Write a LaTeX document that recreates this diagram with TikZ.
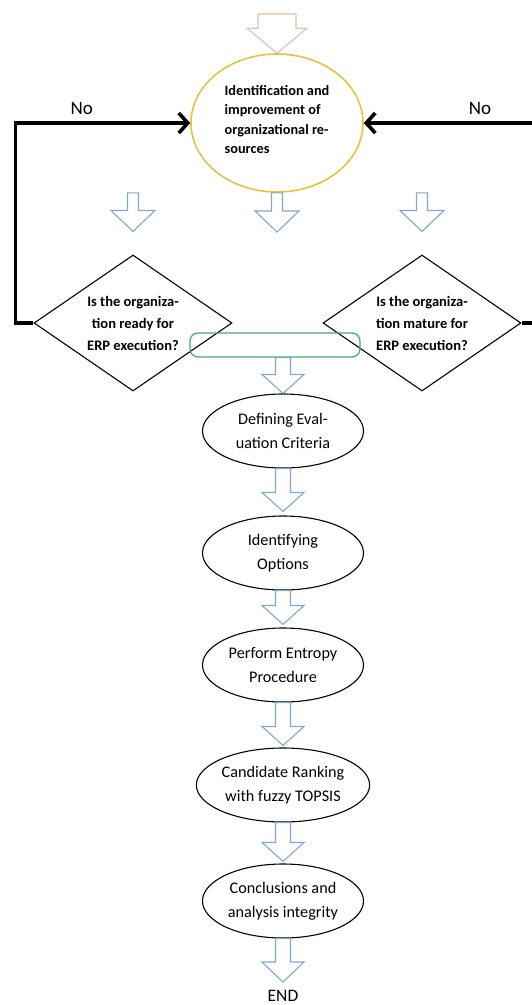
\documentclass[tikz,border=0pt]{standalone}
\usepackage{fontspec}
\setmainfont{Carlito}
\usetikzlibrary{shapes.geometric,calc,arrows.meta}
\definecolor{goldline}{RGB}{226,196,62}
\definecolor{arrowblue}{RGB}{128,168,205}
\definecolor{arroworange}{RGB}{228,192,168}
\definecolor{mergegreen}{RGB}{72,168,118}

% hollow block arrow: style, top point, tip point, shaft half width, head half width, head length
\newcommand{\hollowarrow}[6]{%
  \draw[#1] let \p1=#2, \p2=#3 in
    (\x2-#4pt,\y1) -- (\x2+#4pt,\y1) -- (\x2+#4pt,\y2+#6pt) -- (\x2+#5pt,\y2+#6pt)
    -- (\x2,\y2) -- (\x2-#5pt,\y2+#6pt) -- (\x2-#4pt,\y2+#6pt) -- cycle;}

\begin{document}
\begin{tikzpicture}[
	x=1pt, y=-1pt,
	yellownode/.style={draw=goldline, line width=1.6pt, ellipse, minimum width=172pt, minimum height=138pt, inner sep=0pt, align=left, font=\fontsize{14.3}{19.6}\selectfont\bfseries},
	decision/.style={draw, line width=1.1pt, diamond, aspect=1.43, minimum width=198pt, minimum height=136pt, inner sep=0pt, align=center, font=\fontsize{14.5}{22}\selectfont\bfseries},
	stage/.style={draw, line width=1.1pt, ellipse, minimum width=161pt, minimum height=74pt, inner sep=0pt, align=center, font=\fontsize{16.2}{24}\selectfont},
	bluearrow/.style={draw=arrowblue, fill=white, line width=1.1pt, line join=miter},
	orangearrow/.style={draw=arroworange, fill=white, line width=1.1pt},
	noline/.style={line width=3.6pt, -{Straight Barb[length=9pt, width=20pt]}},
	label/.style={font=\fontsize{19}{21}\selectfont}
	]
	\useasboundingbox (0,0) rectangle (531,1005);
	
	% Top node
	\coordinate (start) at (280,14);
	\node[yellownode] (resources) at (277,123) {Identification and\\improvement of\\organizational re-\\sources\vspace{7pt}};
	
	% Decisions
	\node[decision] (ready) at (133,323) {Is the organiza-\\tion ready for\\ERP execution?};
	\node[decision] (mature) at (422,323) {Is the organiza-\\tion mature for\\ERP execution?};
	\node[draw=mergegreen, line width=1.3pt, rounded corners=8pt, minimum width=170pt, minimum height=24pt] (merge) at (275,345) {};
	\coordinate (midtip) at (277,232);
	\coordinate (rightturn) at (540,323);
	
	% Stages
	\node[stage] (criteria) at (283,431) {Defining Eval-\\uation Criteria};
	\node[stage] (options) at (283,553) {Identifying\\Options};
	\node[stage] (entropy) at (283,665) {Perform Entropy\\Procedure};
	\node[stage] (ranking) at (283,785) {Candidate Ranking\\with fuzzy TOPSIS};
	\node[stage] (conclusions) at (283,901) {Conclusions and\\analysis integrity};
	\node[label, anchor=north, inner sep=0pt, font=\fontsize{17.5}{19}\selectfont] (end) at (283,990) {END};
	
	% No loops
	\draw[noline] (ready.west) -- ++(-18,0) |- (resources.west) node[pos=0.69, above=3pt, label] (noleft) {No};
	\draw[noline] (mature.east) -- (rightturn) |- (resources.east) node[pos=0.67, above=3pt, label] (noright) {No};
	
	% Block arrows
	\hollowarrow{orangearrow}{(start)}{(resources.north)}{19}{30}{25}
	\hollowarrow{bluearrow}{(resources.south)}{($(ready.north)+(0,-23)$)}{5.5}{22}{21}
	\hollowarrow{bluearrow}{(resources.south)}{(midtip)}{5.5}{22}{21}
	\hollowarrow{bluearrow}{(resources.south)}{($(mature.north)+(0,-23)$)}{5.5}{22}{21}
	\hollowarrow{bluearrow}{(merge.south)}{(criteria.north)}{7.5}{21}{19}
	\hollowarrow{bluearrow}{(criteria.south)}{($(options.north)+(0,-4)$)}{7.5}{21}{19}
	\hollowarrow{bluearrow}{(options.south)}{($(entropy.north)+(0,-3)$)}{7.5}{21}{19}
	\hollowarrow{bluearrow}{(entropy.south)}{($(ranking.north)+(0,-2)$)}{7.5}{21}{19}
	\hollowarrow{bluearrow}{(ranking.south)}{($(conclusions.north)+(0,-2)$)}{7.5}{21}{19}
	\hollowarrow{bluearrow}{(conclusions.south)}{($(end.north)+(0,-8)$)}{7.5}{21}{20}
	
\end{tikzpicture}
\end{document}
